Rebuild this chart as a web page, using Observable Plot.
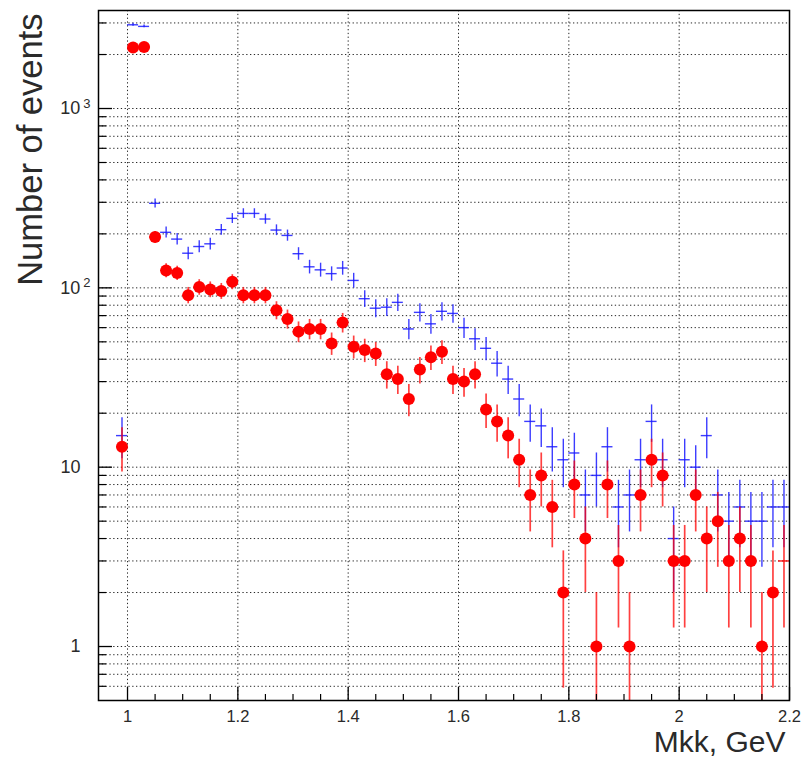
<!DOCTYPE html>
<html>
<head>
<meta charset="utf-8">
<script src="https://cdn.jsdelivr.net/npm/d3@7"></script>
<script src="https://cdn.jsdelivr.net/npm/@observablehq/plot@0.6"></script>
<style>
  html, body { margin: 0; padding: 0; background: #fff; }
</style>
</head>
<body>
<div id="chart"></div>
<script>
// ---- data (bin centers in GeV, event counts per 0.02 GeV bin) ----
const binCenters = [
  0.99, 1.01, 1.03, 1.05, 1.07, 1.09, 1.11, 1.13, 1.15, 1.17, 1.19,
  1.21, 1.23, 1.25, 1.27, 1.29, 1.31, 1.33, 1.35, 1.37, 1.39,
  1.41, 1.43, 1.45, 1.47, 1.49, 1.51, 1.53, 1.55, 1.57, 1.59,
  1.61, 1.63, 1.65, 1.67, 1.69, 1.71, 1.73, 1.75, 1.77, 1.79,
  1.81, 1.83, 1.85, 1.87, 1.89, 1.91, 1.93, 1.95, 1.97, 1.99,
  2.01, 2.03, 2.05, 2.07, 2.09, 2.11, 2.13, 2.15, 2.17, 2.19
];
const binWidth = 0.02;

const redCounts = [
  13, 2190, 2200, 192, 125, 121, 91, 101, 98, 96, 108,
  91, 91, 91, 75, 67, 57, 59, 59, 49, 64,
  47, 45, 43, 33, 31, 24, 35, 41, 44, 31,
  30, 33, 21, 18, 15, 11, 7, 9, 6, 2,
  8, 4, 1, 8, 3, 1, 7, 11, 9, 3,
  3, 7, 4, 5, 3, 4, 3, 1, 2, 3
];

const blueCounts = [
  15, 2930, 2870, 296, 204, 187, 156, 170, 176, 211, 244,
  260, 260, 242, 210, 196, 155, 131, 126, 120, 129,
  110, 87, 77, 78, 83, 59, 73, 63, 74, 72,
  60, 52, 46, 38, 31, 24, 18, 17, 13, 11,
  12, 7, 9, 13, 6, 7, 11, 18, 11, 4,
  11, 10, 15, 7, 5, 6, 5, 5, 6, 6
];

const xMajorTicks = [1, 1.2, 1.4, 1.6, 1.8, 2, 2.2];
const xTickLabels = ["1", "1.2", "1.4", "1.6", "1.8", "2", "2.2"];
const yMajorTicks = [1, 10, 100, 1000];
const yTickLabels = ["1", "10", "10^2", "10^3"];
const xTitle = "Mkk, GeV";
const yTitle = "Number of events";
const xDomain = [0.9474, 2.2];
const yDomain = [0.5, 3520];

// ---- derived tables ----
const W = 802, H = 763;
const mL = 98, mR = 13, mT = 10, mB = 63;
const frameW = W - mL - mR, frameH = H - mT - mB;

function table(counts) {
  return binCenters.map((x, i) => {
    const v = counts[i], e = Math.sqrt(v);
    return { x, v, lo: Math.max(v - e, yDomain[0] / 4), hi: v + e };
  });
}
const red = table(redCounts);
const blue = table(blueCounts);
const redMarkers = red.filter(d => d.x + binWidth / 2 < xDomain[1] - 1e-9);

const xMinorTicks = d3.ticks(1, 2.2, 24).filter(d => Math.abs(d * 5 - Math.round(d * 5)) > 1e-6);
const yGrid = [], yMinorTicks = [];
for (let e = -1; e <= 3; e++) {
  for (let k = 1; k <= 9; k++) {
    const v = +(k * Math.pow(10, e)).toPrecision(6);
    if (v > yDomain[0] && v < yDomain[1]) {
      yGrid.push(v);
      if (k !== 1) yMinorTicks.push(v);
    }
  }
}
const xLabelMap = new Map(xMajorTicks.map((d, i) => [d, xTickLabels[i]]));
const yLabelMap = new Map(yMajorTicks.map((d, i) => [d, yTickLabels[i]]));

const BLUE = "#1a1aff", REDC = "#ff0000";
const dots = "1.3,2.5";
const TXT = "#2a2a2a";

const svg = Plot.plot({
  width: W, height: H,
  marginLeft: mL, marginRight: mR, marginTop: mT, marginBottom: mB,
  style: { fontFamily: "'Liberation Sans', Arial, Helvetica, sans-serif", fontSize: "18px", color: TXT, background: "#fff" },
  x: { domain: xDomain },
  y: { type: "log", domain: yDomain },
  marks: [
    Plot.gridY(yGrid, { stroke: "#000", strokeOpacity: 0.85, strokeWidth: 1, strokeDasharray: dots }),
    Plot.gridX(xMajorTicks.slice(0, -1), { stroke: "#000", strokeOpacity: 0.85, strokeWidth: 1, strokeDasharray: dots }),

    // blue series: crosses (bin-width bar + sqrt(N) error bar)
    Plot.ruleY(blue, { y: "v", x1: d => d.x - binWidth / 2, x2: d => d.x + binWidth / 2, stroke: BLUE, strokeWidth: 1.4, strokeOpacity: 0.85, clip: true }),
    Plot.ruleX(blue, { x: "x", y1: "lo", y2: "hi", stroke: BLUE, strokeWidth: 1.4, strokeOpacity: 0.85, clip: true }),

    // red series: error bars + filled circles
    Plot.ruleY(red, { y: "v", x1: d => d.x - binWidth / 2, x2: d => d.x + binWidth / 2, stroke: REDC, strokeWidth: 1.6, strokeOpacity: 0.8, clip: true }),
    Plot.ruleX(red, { x: "x", y1: "lo", y2: "hi", stroke: REDC, strokeWidth: 1.7, strokeOpacity: 0.75, clip: true }),
    Plot.dot(redMarkers, { x: "x", y: "v", r: 6, fill: REDC, stroke: "none" }),

    Plot.frame({ stroke: "#000", strokeWidth: 1.5 }),

    // inward ticks
    Plot.tickX(xMajorTicks, { x: d => d, insetTop: frameH - 13, stroke: "#000", strokeWidth: 1.3 }),
    Plot.tickX(xMinorTicks, { x: d => d, insetTop: frameH - 6, stroke: "#000", strokeWidth: 1.2 }),
    Plot.tickY(yMajorTicks, { y: d => d, insetRight: frameW - 14, stroke: "#000", strokeWidth: 1.3 }),
    Plot.tickY(yMinorTicks, { y: d => d, insetRight: frameW - 8, stroke: "#000", strokeWidth: 1.2 }),

    Plot.axisX(xMajorTicks, { tickSize: 0, tickPadding: 10, fontSize: 16.5, label: null, tickFormat: d => xLabelMap.get(d) }),
    Plot.axisY(yMajorTicks, { tickSize: 0, tickPadding: 18, fontSize: 18, label: null, tickFormat: d => yLabelMap.get(d) }),

    Plot.text([xTitle], { frameAnchor: "bottom-right", text: d => d, dx: -4, dy: 51, textAnchor: "end", fontSize: 30, fill: TXT }),
    Plot.text([yTitle], { frameAnchor: "top-left", text: d => d, rotate: -90, textAnchor: "end", dx: -81, dy: 3, fontSize: 34.5, fill: TXT })
  ]
});

// superscript exponents on the log-axis labels
d3.select(svg).selectAll('g[aria-label="y-axis tick label"] text').each(function () {
  const t = this.textContent;
  if (t.includes("^")) {
    const [base, exp] = t.split("^");
    const sel = d3.select(this);
    sel.text(base);
    sel.append("tspan").attr("dx", 3).attr("dy", "-0.5em").attr("font-size", "13px").text(exp);
    const x0 = this.hasAttribute("x") ? +this.getAttribute("x") : 0;
    this.setAttribute("x", x0 + 10);
  }
});

document.getElementById("chart").appendChild(svg);
</script>
</body>
</html>
